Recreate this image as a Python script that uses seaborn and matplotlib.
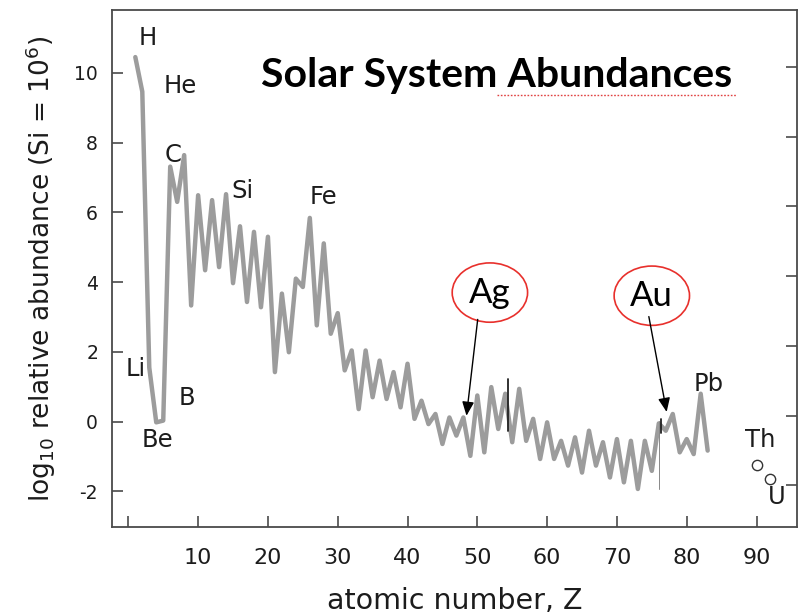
import numpy as np
import pandas as pd
import matplotlib
matplotlib.use("Agg")
import matplotlib.pyplot as plt
import seaborn as sns
from matplotlib.patches import Ellipse

# ---------------- data ----------------
elements = ['H', 'He', 'Li', 'Be', 'B', 'C', 'N', 'O', 'F', 'Ne',
            'Na', 'Mg', 'Al', 'Si', 'P', 'S', 'Cl', 'Ar', 'K', 'Ca',
            'Sc', 'Ti', 'V', 'Cr', 'Mn', 'Fe', 'Co', 'Ni', 'Cu', 'Zn',
            'Ga', 'Ge', 'As', 'Se', 'Br', 'Kr', 'Rb', 'Sr', 'Y', 'Zr',
            'Nb', 'Mo', 'Tc', 'Ru', 'Rh', 'Pd', 'Ag', 'Cd', 'In', 'Sn',
            'Sb', 'Te', 'I', 'Xe', 'Cs', 'Ba', 'La', 'Ce', 'Pr', 'Nd',
            'Pm', 'Sm', 'Eu', 'Gd', 'Tb', 'Dy', 'Ho', 'Er', 'Tm', 'Yb',
            'Lu', 'Hf', 'Ta', 'W', 'Re', 'Os', 'Ir', 'Pt', 'Au', 'Hg',
            'Tl', 'Pb', 'Bi']
atomic_number = list(range(1, 84))
log_abundance = [10.45, 9.46, 1.55, -0.02, 0.03, 7.31, 6.30, 7.64, 3.33, 6.49,
                 4.34, 6.35, 4.43, 6.52, 3.97, 5.60, 3.43, 5.44, 3.28, 5.30,
                 1.42, 3.67, 1.99, 4.10, 3.86, 5.84, 2.76, 5.11, 2.52, 3.11,
                 1.47, 2.04, 0.36, 2.04, 0.70, 1.75, 0.65, 1.42, 0.41, 1.66,
                 0.08, 0.60, -0.07, 0.22, -0.64, 0.12, -0.40, 0.12, -0.98, 0.75,
                 -0.88, 0.99, -0.21, 0.80, -0.59, 0.94, -0.55, 0.08, -1.07, -0.02,
                 -1.07, -0.55, -1.26, -0.45, -1.46, -0.26, -1.26, -0.59, -1.60, -0.50,
                 -1.74, -0.55, -1.93, -0.55, -1.41, -0.05, -0.26, 0.22, -0.88, -0.50,
                 -0.93, 0.80, -0.83]

actinides = ['Th', 'U']
actinide_z = [90, 92]
actinide_abundance = [-1.23, -1.63]

x_ticks = [0, 10, 20, 30, 40, 50, 60, 70, 80, 90]
x_tick_labels = ['', '10', '20', '30', '40', '50', '60', '70', '80', '90']
y_ticks = [-2, 0, 2, 4, 6, 8, 10]
y_tick_labels = ['-2', '0', '2', '4', '6', '8', '10']

# labelled elements: (text, x, y)
element_labels = [('H', 2.8, 11.0), ('He', 7.4, 9.63), ('C', 6.4, 7.63),
                  ('Si', 16.4, 6.62), ('Fe', 27.9, 6.45), ('Li', 1.0, 1.52),
                  ('B', 8.4, 0.69), ('Be', 4.1, -0.54), ('Pb', 83.2, 1.09),
                  ('Th', 90.5, -0.54), ('U', 92.9, -2.15)]

df = pd.DataFrame({'Z': atomic_number, 'logA': log_abundance, 'el': elements})
df_act = pd.DataFrame({'Z': actinide_z, 'logA': actinide_abundance, 'el': actinides})

# ---------------- style ----------------
sns.set_theme(style='ticks')
plt.rcParams['font.family'] = ['DejaVu Sans']
text_col = '#1c1c1c'
spine_col = '#4a4a4a'
line_col = '#9c9c9c'

fig = plt.figure(figsize=(7.99, 6.14), dpi=100)
ax = fig.add_axes([112 / 799, 1 - 527 / 614, 685 / 799, 517 / 614])

sns.lineplot(data=df, x='Z', y='logA', ax=ax, color=line_col, linewidth=3.2,
             sort=True, legend=False)
sns.scatterplot(data=df_act, x='Z', y='logA', ax=ax, s=55, marker='o',
                facecolor='white', edgecolor='#333333', linewidth=1.0,
                legend=False, zorder=5)

ylo, yhi = -3.02, 11.8
ax.set_xlim(-2.34, 95.8)
ax.set_ylim(ylo, yhi)

ax.set_xticks(x_ticks)
ax.set_xticklabels(x_tick_labels)
ax.set_yticks(y_ticks)
ax.set_yticklabels(y_tick_labels)
ax.tick_params(axis='x', direction='in', length=8, width=1.2, color=spine_col,
               labelsize=16, pad=15, labelcolor=text_col, top=False)
ax.tick_params(axis='y', direction='in', length=8, width=1.2, color=spine_col,
               labelsize=13.5, pad=10, labelcolor=text_col, right=False)
for s in ax.spines.values():
    s.set_color(spine_col)
    s.set_linewidth(1.3)

# right-hand ticks sit slightly higher than the left ones in the picture
ax2 = ax.twinx()
ax2.set_ylim(ylo - 0.17, yhi - 0.17)
ax2.set_yticks(y_ticks)
ax2.tick_params(axis='y', direction='in', length=8, width=1.2, color=spine_col,
                labelright=False, right=True)
for s in ax2.spines.values():
    s.set_visible(False)

ax.set_xlabel('atomic number, Z', fontsize=20.5, color=text_col, labelpad=14)
ax.set_ylabel(r'log$_{10}$ relative abundance (Si = 10$^{6}$)', fontsize=19,
              color=text_col, labelpad=12)

for txt, x, y in element_labels:
    ax.text(x, y, txt, fontsize=17.5, color=text_col, ha='center', va='center')

# title
ax.text(0.562, 0.874, 'Solar System Abundances', transform=ax.transAxes,
        fontsize=29.5, fontweight='bold', family=['Lato', 'DejaVu Sans'],
        color='black', ha='center', va='center')
ax.plot([0.562, 0.912], [0.836, 0.836], transform=ax.transAxes, color='#e04040',
        linewidth=1.0, linestyle=(0, (1.2, 1.2)))

# circled annotations with arrows: (label, ellipse centre, arrow tail, arrow head)
callouts = [('Ag', (51.8, 3.70), (50.1, 3.01), (48.4, 0.09)),
            ('Au', (75.0, 3.61), (74.5, 3.09), (77.2, 0.20))]
for label, (cx, cy), tail, head in callouts:
    ax.add_patch(Ellipse((cx, cy), 10.8, 1.70, facecolor='none', edgecolor='#e8302c',
                         linewidth=1.2, zorder=6))
    ax.text(cx, cy, label, fontsize=25, family=['Lato', 'DejaVu Sans'], color='black',
            ha='center', va='center', zorder=7)
    ax.annotate('', xy=head, xytext=tail,
                arrowprops=dict(arrowstyle='-|>,head_length=0.7,head_width=0.3',
                                color='black', linewidth=1.0), zorder=7)

# small editing artifacts visible in the picture
ax.plot([54.4, 54.4], [1.23, -0.26], color='#222222', linewidth=1.3, zorder=4)
ax.plot([76.0, 76.0], [0.03, -1.92], color='#888888', linewidth=0.7, zorder=4)
ax.plot([76.3, 76.3], [0.09, -0.32], color='#222222', linewidth=1.3, zorder=4)

fig.savefig('out.png', dpi=100)
